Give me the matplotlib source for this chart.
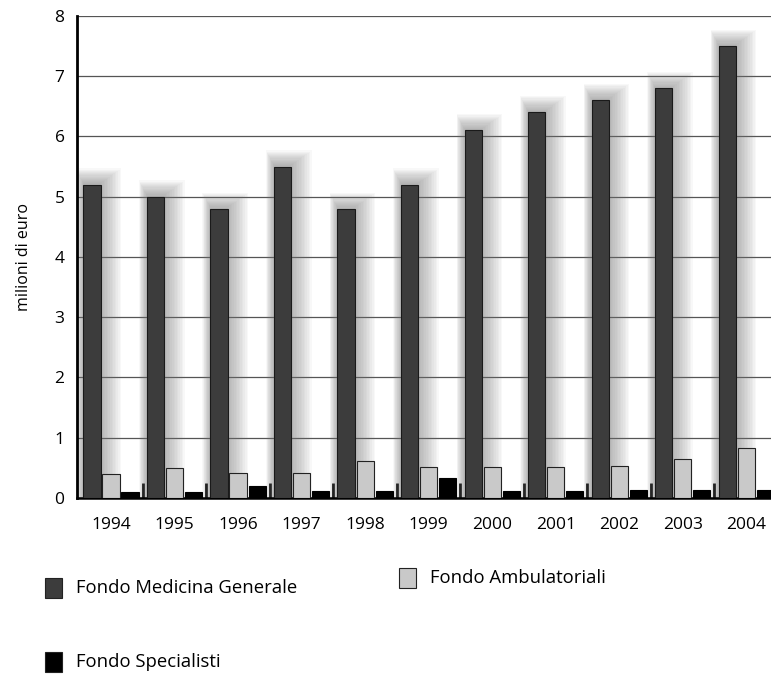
import matplotlib.pyplot as plt
from matplotlib.patches import Rectangle
import numpy as np

anni = ["1994", "1995", "1996", "1997", "1998", "1999",
        "2000", "2001", "2002", "2003", "2004"]
medicina_generale = [5.2, 5.0, 4.8, 5.5, 4.8, 5.2, 6.1, 6.4, 6.6, 6.8, 7.5]
ambulatoriali = [0.4, 0.5, 0.42, 0.42, 0.62, 0.52, 0.52, 0.52, 0.53, 0.65, 0.83]
specialisti = [0.1, 0.1, 0.2, 0.12, 0.12, 0.33, 0.12, 0.12, 0.13, 0.13, 0.13]

plt.rcParams['font.family'] = ['Open Sans', 'DejaVu Sans']

fig = plt.figure(figsize=(7.71, 6.77), dpi=100)
ax = fig.add_axes([0.0999, 0.2644, 0.9001, 0.712])

x = np.arange(len(anni))
w = 0.27
dark = "#3c3c3c"
light = "#c9c9c9"

# soft grey glow behind the dark bars
n = 14
for k in range(n):
    f = k / (n - 1)
    ax.bar(x - 0.3 + 0.1 * f, np.array(medicina_generale) + 0.02 + 0.25 * f,
           width=w + 0.45 * f, color="#7a7a7a", alpha=0.05,
           linewidth=0, zorder=1)

ax.bar(x - 0.3, medicina_generale, width=w, color=dark,
       edgecolor="#1a1a1a", linewidth=0.8, zorder=3)
ax.bar(x, ambulatoriali, width=w, color=light,
       edgecolor="#222222", linewidth=0.8, zorder=3)
ax.bar(x + 0.3, specialisti, width=w, color="black",
       edgecolor="black", linewidth=0.8, zorder=3)

ax.set_xlim(-0.535, 10.39)
ax.set_ylim(0, 8)
ax.set_yticks(range(0, 9))
ax.grid(axis="y", color="#555555", linewidth=0.9, zorder=0)
ax.set_axisbelow(True)

ax.set_xticks(x)
ax.set_xticklabels(anni, fontsize=12.5)
ax.set_xticks(x[:-1] + 0.5, minor=True)
ax.tick_params(axis="x", which="major", length=0, pad=14)
ax.tick_params(axis="x", which="minor", direction="in", length=11,
               width=2, color="black")
ax.tick_params(axis="y", length=0, pad=9, labelsize=12.5)

for s in ["top", "right"]:
    ax.spines[s].set_visible(False)
ax.spines["left"].set_linewidth(2)
ax.spines["bottom"].set_linewidth(1.8)

ax.set_ylabel("milioni di euro", fontsize=11.5, labelpad=16)

# legend drawn by hand in figure pixels
W, H = 771, 677
voci = [("Fondo Medicina Generale", dark, 45, 588),
        ("Fondo Ambulatoriali", light, 399, 578),
        ("Fondo Specialisti", "black", 45, 662)]
for testo, col, px, py in voci:
    fig.patches.append(Rectangle((px / W, 1 - (py + 10) / H), 17 / W, 20 / H,
                                 transform=fig.transFigure, facecolor=col,
                                 edgecolor="#222222", linewidth=0.8))
    fig.text((px + 31) / W, 1 - py / H, testo, fontsize=13.3,
             va="center", ha="left")

fig.savefig("out.png", dpi=100)
